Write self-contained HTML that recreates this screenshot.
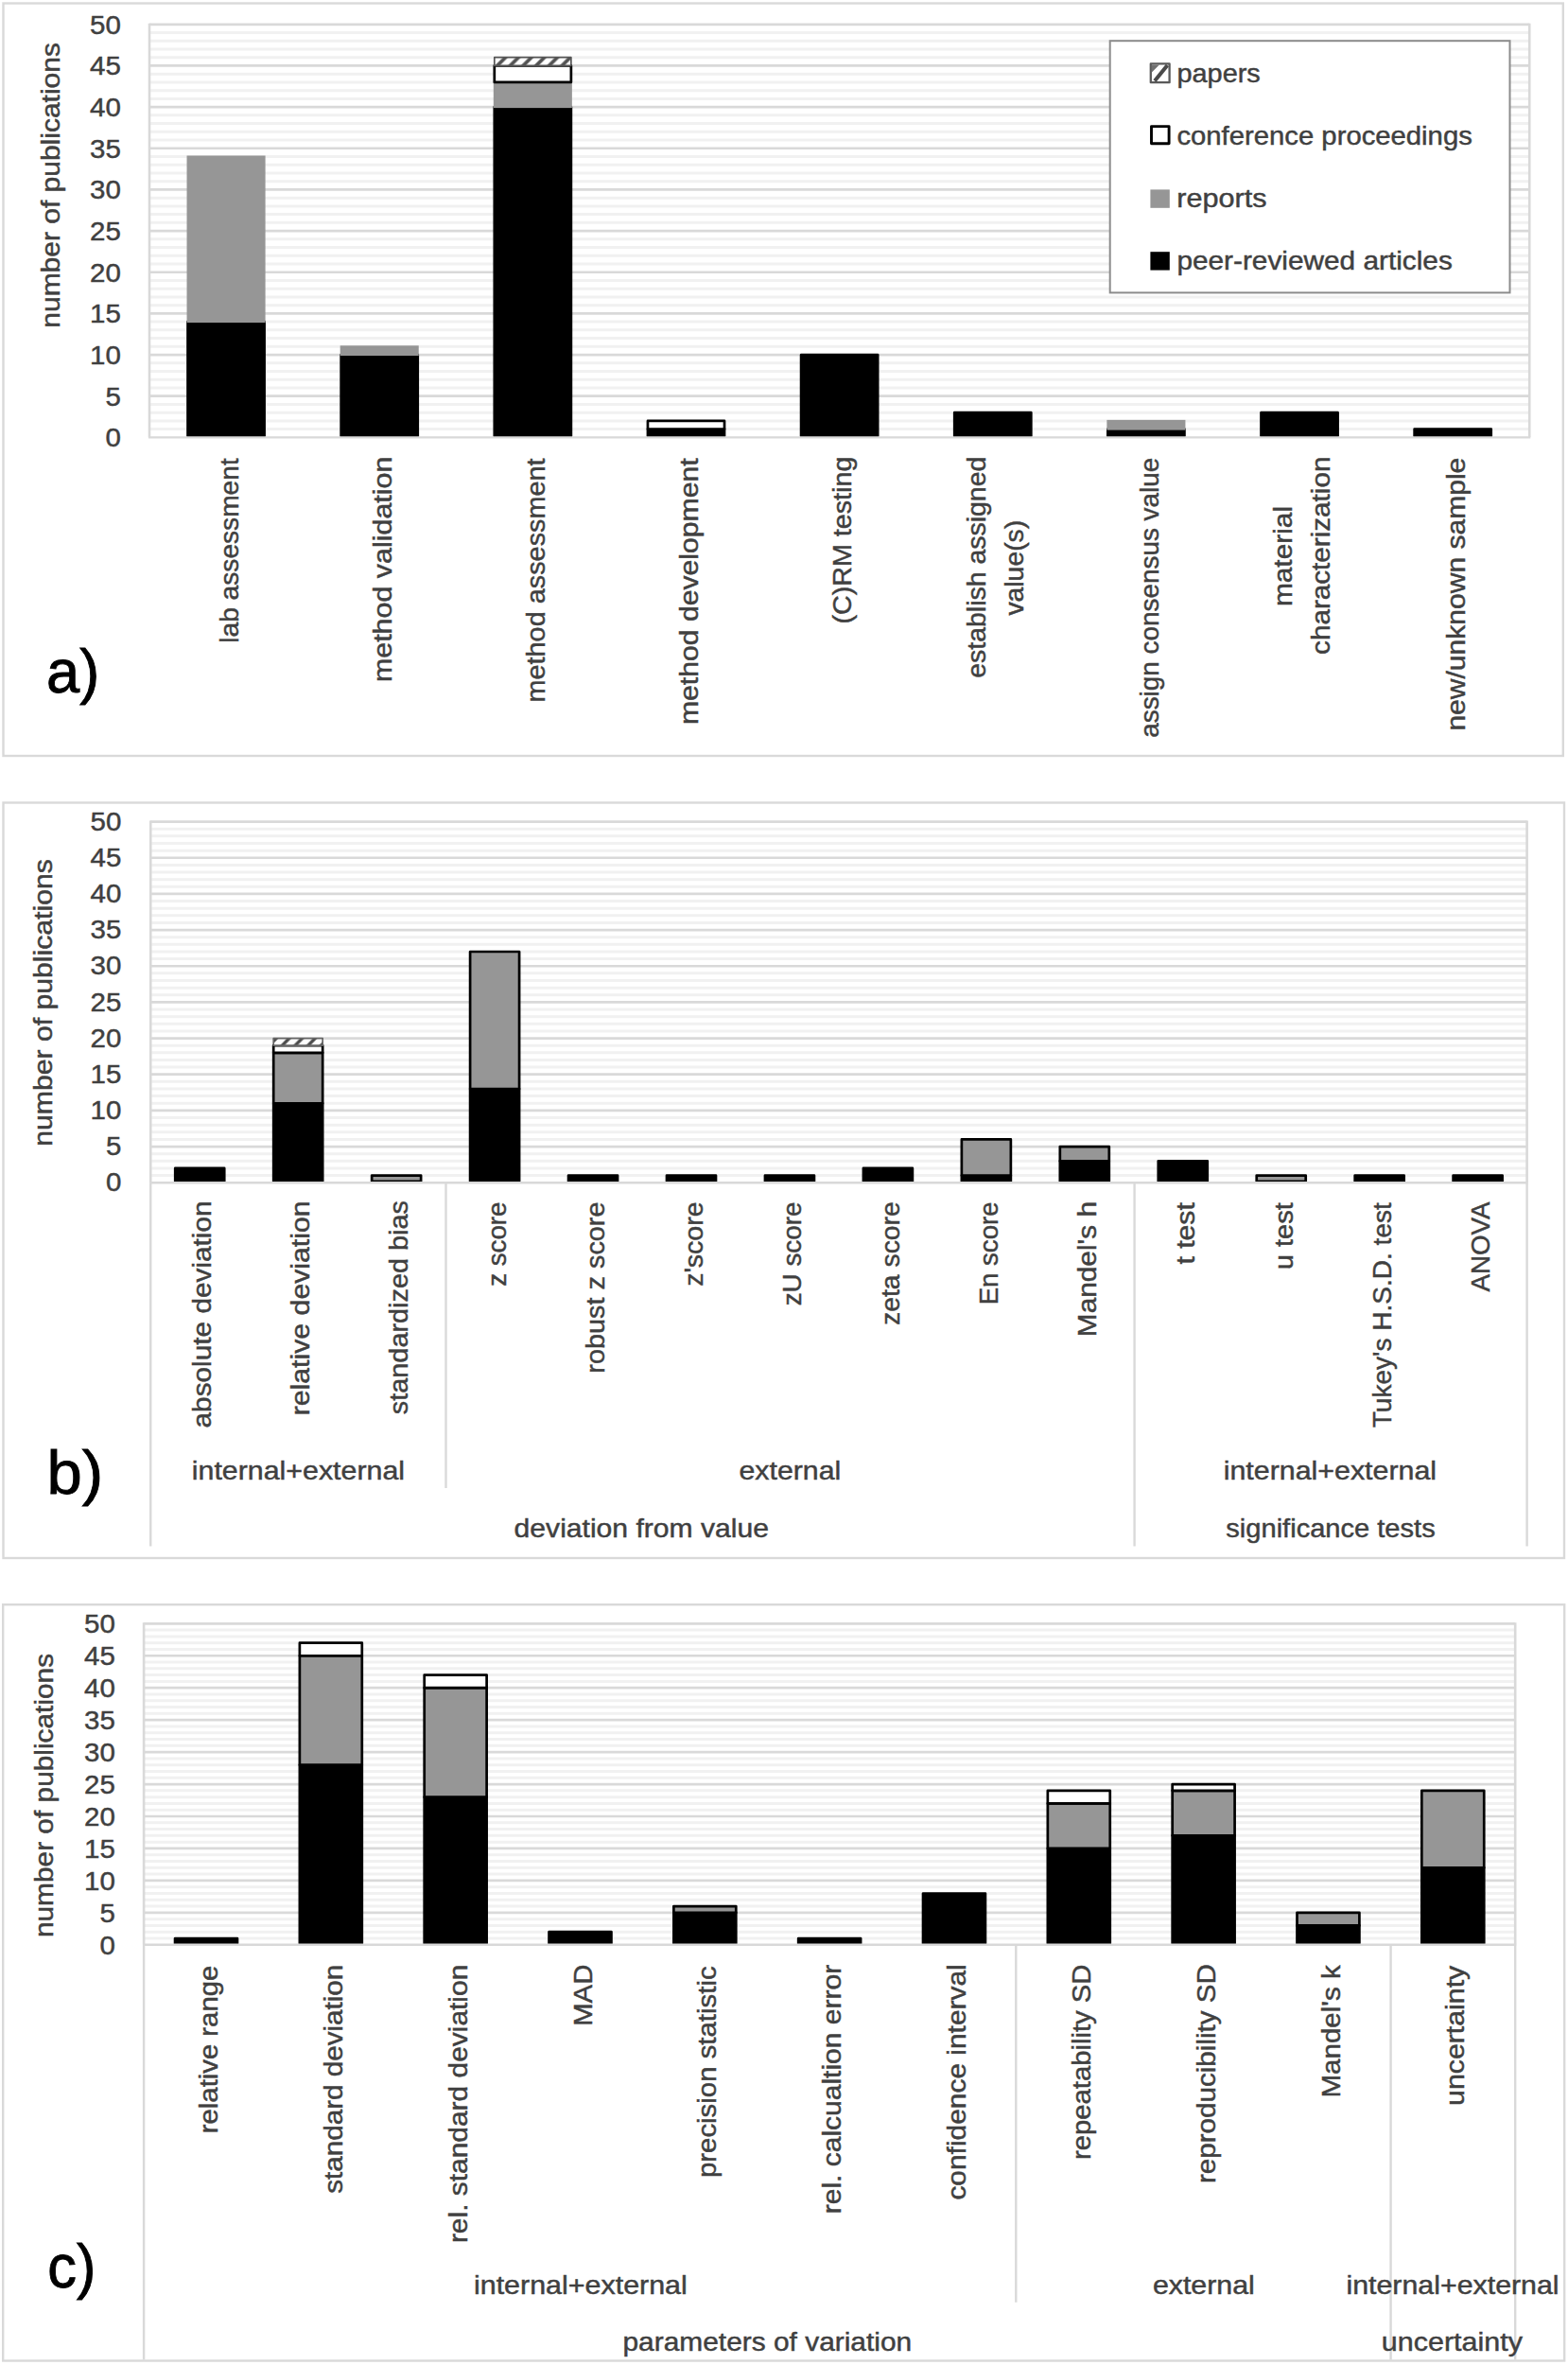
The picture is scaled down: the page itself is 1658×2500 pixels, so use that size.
<!DOCTYPE html>
<html lang="en"><head><meta charset="utf-8"><title>Publication statistics charts</title>
<style>
html,body{margin:0;padding:0;background:#fff}
body{width:1658px;height:2500px;overflow:hidden}
svg{display:block}
svg text{font-family:'Liberation Sans', Arial, Helvetica, sans-serif;white-space:pre}
</style></head><body>
<svg width="1658" height="2500" viewBox="0 0 1658 2500">
<defs>
<pattern id="hat" patternUnits="userSpaceOnUse" width="13.7" height="13.7" patternTransform="translate(521,60.5)">
<rect width="13.7" height="13.7" fill="#fff"/>
<path d="M-3.425,3.425L3.425,-3.425M0,13.7L13.7,0M10.275,17.125L17.125,10.275" stroke="#525252" stroke-width="3.7"/>
</pattern>
<pattern id="hatb" patternUnits="userSpaceOnUse" width="13.7" height="13.7" patternTransform="translate(521,60.5)">
<rect width="13.7" height="13.7" fill="#fff"/>
<path d="M-3.425,3.425L3.425,-3.425M0,13.7L13.7,0M10.275,17.125L17.125,10.275" stroke="#4a4a4a" stroke-width="3.3"/>
</pattern>
</defs>
<rect width="1658" height="2500" fill="#fff"/>
<rect x="3.5" y="3.5" width="1649.3" height="795.5" fill="#fff" stroke="#d9d9d9" stroke-width="2.4"/>
<rect x="3.5" y="848.5" width="1650.5" height="798.5" fill="#fff" stroke="#d9d9d9" stroke-width="2.4"/>
<rect x="3.2" y="1696.2" width="1651.0" height="799.3" fill="#fff" stroke="#d9d9d9" stroke-width="2.4"/>
<path d="M158.00,453.62H1617.25M158.00,444.89H1617.25M158.00,436.16H1617.25M158.00,427.43H1617.25M158.00,409.96H1617.25M158.00,401.23H1617.25M158.00,392.50H1617.25M158.00,383.77H1617.25M158.00,366.31H1617.25M158.00,357.58H1617.25M158.00,348.85H1617.25M158.00,340.12H1617.25M158.00,322.65H1617.25M158.00,313.92H1617.25M158.00,305.19H1617.25M158.00,296.46H1617.25M158.00,279.00H1617.25M158.00,270.27H1617.25M158.00,261.54H1617.25M158.00,252.81H1617.25M158.00,235.34H1617.25M158.00,226.61H1617.25M158.00,217.88H1617.25M158.00,209.15H1617.25M158.00,191.69H1617.25M158.00,182.96H1617.25M158.00,174.23H1617.25M158.00,165.50H1617.25M158.00,148.03H1617.25M158.00,139.30H1617.25M158.00,130.57H1617.25M158.00,121.84H1617.25M158.00,104.38H1617.25M158.00,95.65H1617.25M158.00,86.92H1617.25M158.00,78.19H1617.25M158.00,60.72H1617.25M158.00,51.99H1617.25M158.00,43.26H1617.25M158.00,34.53H1617.25" stroke="#f1f1f1" stroke-width="3" fill="none"/>
<path d="M158.00,418.70H1617.25M158.00,375.04H1617.25M158.00,331.38H1617.25M158.00,287.73H1617.25M158.00,244.08H1617.25M158.00,200.42H1617.25M158.00,156.77H1617.25M158.00,113.11H1617.25M158.00,69.46H1617.25M158.00,25.80H1617.25" stroke="#d9d9d9" stroke-width="2.7" fill="none"/>
<path d="M158.00,24.80V462.35M1617.25,24.80V462.35" stroke="#d9d9d9" stroke-width="2.6" fill="none"/>
<rect x="198.53" y="340.12" width="81.07" height="120.88" fill="#000" stroke="#000" stroke-width="2.7" stroke-linejoin="round"/>
<rect x="198.53" y="165.50" width="81.07" height="174.62" fill="#969696" stroke="#969696" stroke-width="2"/>
<rect x="360.67" y="375.04" width="81.07" height="85.96" fill="#000" stroke="#000" stroke-width="2.7" stroke-linejoin="round"/>
<rect x="360.67" y="366.31" width="81.07" height="8.73" fill="#969696" stroke="#969696" stroke-width="2"/>
<rect x="522.81" y="113.11" width="81.07" height="347.89" fill="#000" stroke="#000" stroke-width="2.7" stroke-linejoin="round"/>
<rect x="522.81" y="86.92" width="81.07" height="26.19" fill="#969696" stroke="#969696" stroke-width="2"/>
<rect x="522.81" y="69.46" width="81.07" height="17.46" fill="#fff" stroke="#000" stroke-width="2.7" stroke-linejoin="round"/>
<rect x="522.81" y="60.72" width="81.07" height="8.73" fill="url(#hat)" stroke="#555" stroke-width="1.7" stroke-linejoin="round"/>
<rect x="684.95" y="453.62" width="81.07" height="7.38" fill="#000" stroke="#000" stroke-width="2.7" stroke-linejoin="round"/>
<rect x="684.95" y="444.89" width="81.07" height="8.73" fill="#fff" stroke="#000" stroke-width="2.7" stroke-linejoin="round"/>
<rect x="847.09" y="375.04" width="81.07" height="85.96" fill="#000" stroke="#000" stroke-width="2.7" stroke-linejoin="round"/>
<rect x="1009.23" y="436.16" width="81.07" height="24.84" fill="#000" stroke="#000" stroke-width="2.7" stroke-linejoin="round"/>
<rect x="1171.37" y="453.62" width="81.07" height="7.38" fill="#000" stroke="#000" stroke-width="2.7" stroke-linejoin="round"/>
<rect x="1171.37" y="444.89" width="81.07" height="8.73" fill="#969696" stroke="#969696" stroke-width="2"/>
<rect x="1333.51" y="436.16" width="81.07" height="24.84" fill="#000" stroke="#000" stroke-width="2.7" stroke-linejoin="round"/>
<rect x="1495.65" y="453.62" width="81.07" height="7.38" fill="#000" stroke="#000" stroke-width="2.7" stroke-linejoin="round"/>
<path d="M157.00,462.35H1618.25" stroke="#d9d9d9" stroke-width="2.4" fill="none"/>
<text x="111.42" y="472.15" font-size="27.5" fill="#404040" stroke="#404040" stroke-width="0.45" textLength="16.39" lengthAdjust="spacingAndGlyphs">0</text>
<text x="111.42" y="428.50" font-size="27.5" fill="#404040" stroke="#404040" stroke-width="0.45" textLength="16.39" lengthAdjust="spacingAndGlyphs">5</text>
<text x="95.03" y="384.84" font-size="27.5" fill="#404040" stroke="#404040" stroke-width="0.45" textLength="32.79" lengthAdjust="spacingAndGlyphs">10</text>
<text x="95.03" y="341.19" font-size="27.5" fill="#404040" stroke="#404040" stroke-width="0.45" textLength="32.79" lengthAdjust="spacingAndGlyphs">15</text>
<text x="95.03" y="297.53" font-size="27.5" fill="#404040" stroke="#404040" stroke-width="0.45" textLength="32.79" lengthAdjust="spacingAndGlyphs">20</text>
<text x="95.03" y="253.88" font-size="27.5" fill="#404040" stroke="#404040" stroke-width="0.45" textLength="32.79" lengthAdjust="spacingAndGlyphs">25</text>
<text x="95.03" y="210.22" font-size="27.5" fill="#404040" stroke="#404040" stroke-width="0.45" textLength="32.79" lengthAdjust="spacingAndGlyphs">30</text>
<text x="95.03" y="166.57" font-size="27.5" fill="#404040" stroke="#404040" stroke-width="0.45" textLength="32.79" lengthAdjust="spacingAndGlyphs">35</text>
<text x="95.03" y="122.91" font-size="27.5" fill="#404040" stroke="#404040" stroke-width="0.45" textLength="32.79" lengthAdjust="spacingAndGlyphs">40</text>
<text x="95.03" y="79.26" font-size="27.5" fill="#404040" stroke="#404040" stroke-width="0.45" textLength="32.79" lengthAdjust="spacingAndGlyphs">45</text>
<text x="95.03" y="35.60" font-size="27.5" fill="#404040" stroke="#404040" stroke-width="0.45" textLength="32.79" lengthAdjust="spacingAndGlyphs">50</text>
<path d="M159.25,1242.57H1614.60M159.25,1234.94H1614.60M159.25,1227.30H1614.60M159.25,1219.67H1614.60M159.25,1204.41H1614.60M159.25,1196.78H1614.60M159.25,1189.14H1614.60M159.25,1181.51H1614.60M159.25,1166.25H1614.60M159.25,1158.62H1614.60M159.25,1150.98H1614.60M159.25,1143.35H1614.60M159.25,1128.09H1614.60M159.25,1120.46H1614.60M159.25,1112.82H1614.60M159.25,1105.19H1614.60M159.25,1089.93H1614.60M159.25,1082.30H1614.60M159.25,1074.66H1614.60M159.25,1067.03H1614.60M159.25,1051.77H1614.60M159.25,1044.14H1614.60M159.25,1036.50H1614.60M159.25,1028.87H1614.60M159.25,1013.61H1614.60M159.25,1005.98H1614.60M159.25,998.34H1614.60M159.25,990.71H1614.60M159.25,975.45H1614.60M159.25,967.82H1614.60M159.25,960.18H1614.60M159.25,952.55H1614.60M159.25,937.29H1614.60M159.25,929.66H1614.60M159.25,922.02H1614.60M159.25,914.39H1614.60M159.25,899.13H1614.60M159.25,891.50H1614.60M159.25,883.86H1614.60M159.25,876.23H1614.60" stroke="#f1f1f1" stroke-width="3" fill="none"/>
<path d="M159.25,1212.04H1614.60M159.25,1173.88H1614.60M159.25,1135.72H1614.60M159.25,1097.56H1614.60M159.25,1059.40H1614.60M159.25,1021.24H1614.60M159.25,983.08H1614.60M159.25,944.92H1614.60M159.25,906.76H1614.60M159.25,868.60H1614.60" stroke="#d9d9d9" stroke-width="2.7" fill="none"/>
<path d="M159.25,867.60V1250.20M1614.60,867.60V1250.20" stroke="#d9d9d9" stroke-width="2.6" fill="none"/>
<rect x="185.24" y="1234.94" width="51.98" height="13.91" fill="#000" stroke="#000" stroke-width="2.7" stroke-linejoin="round"/>
<rect x="289.19" y="1166.25" width="51.98" height="82.60" fill="#000" stroke="#000" stroke-width="2.7" stroke-linejoin="round"/>
<rect x="289.19" y="1112.82" width="51.98" height="53.42" fill="#969696" stroke="#000" stroke-width="2.7" stroke-linejoin="round"/>
<rect x="289.19" y="1105.19" width="51.98" height="7.63" fill="#fff" stroke="#000" stroke-width="2.7" stroke-linejoin="round"/>
<rect x="289.19" y="1097.56" width="51.98" height="7.63" fill="url(#hatb)" stroke="#666" stroke-width="1.7" stroke-linejoin="round"/>
<rect x="393.15" y="1242.57" width="51.98" height="6.28" fill="#969696" stroke="#000" stroke-width="2.7" stroke-linejoin="round"/>
<rect x="497.10" y="1150.98" width="51.98" height="97.87" fill="#000" stroke="#000" stroke-width="2.7" stroke-linejoin="round"/>
<rect x="497.10" y="1005.98" width="51.98" height="145.01" fill="#969696" stroke="#000" stroke-width="2.7" stroke-linejoin="round"/>
<rect x="601.05" y="1242.57" width="51.98" height="6.28" fill="#000" stroke="#000" stroke-width="2.7" stroke-linejoin="round"/>
<rect x="705.01" y="1242.57" width="51.98" height="6.28" fill="#000" stroke="#000" stroke-width="2.7" stroke-linejoin="round"/>
<rect x="808.96" y="1242.57" width="51.98" height="6.28" fill="#000" stroke="#000" stroke-width="2.7" stroke-linejoin="round"/>
<rect x="912.91" y="1234.94" width="51.98" height="13.91" fill="#000" stroke="#000" stroke-width="2.7" stroke-linejoin="round"/>
<rect x="1016.87" y="1242.57" width="51.98" height="6.28" fill="#000" stroke="#000" stroke-width="2.7" stroke-linejoin="round"/>
<rect x="1016.87" y="1204.41" width="51.98" height="38.16" fill="#969696" stroke="#000" stroke-width="2.7" stroke-linejoin="round"/>
<rect x="1120.82" y="1227.30" width="51.98" height="21.55" fill="#000" stroke="#000" stroke-width="2.7" stroke-linejoin="round"/>
<rect x="1120.82" y="1212.04" width="51.98" height="15.26" fill="#969696" stroke="#000" stroke-width="2.7" stroke-linejoin="round"/>
<rect x="1224.77" y="1227.30" width="51.98" height="21.55" fill="#000" stroke="#000" stroke-width="2.7" stroke-linejoin="round"/>
<rect x="1328.73" y="1242.57" width="51.98" height="6.28" fill="#969696" stroke="#000" stroke-width="2.7" stroke-linejoin="round"/>
<rect x="1432.68" y="1242.57" width="51.98" height="6.28" fill="#000" stroke="#000" stroke-width="2.7" stroke-linejoin="round"/>
<rect x="1536.63" y="1242.57" width="51.98" height="6.28" fill="#000" stroke="#000" stroke-width="2.7" stroke-linejoin="round"/>
<path d="M158.25,1250.20H1615.60" stroke="#d9d9d9" stroke-width="2.4" fill="none"/>
<text x="111.92" y="1259.30" font-size="27.5" fill="#404040" stroke="#404040" stroke-width="0.45" textLength="16.39" lengthAdjust="spacingAndGlyphs">0</text>
<text x="111.92" y="1221.14" font-size="27.5" fill="#404040" stroke="#404040" stroke-width="0.45" textLength="16.39" lengthAdjust="spacingAndGlyphs">5</text>
<text x="95.53" y="1182.98" font-size="27.5" fill="#404040" stroke="#404040" stroke-width="0.45" textLength="32.79" lengthAdjust="spacingAndGlyphs">10</text>
<text x="95.53" y="1144.82" font-size="27.5" fill="#404040" stroke="#404040" stroke-width="0.45" textLength="32.79" lengthAdjust="spacingAndGlyphs">15</text>
<text x="95.53" y="1106.66" font-size="27.5" fill="#404040" stroke="#404040" stroke-width="0.45" textLength="32.79" lengthAdjust="spacingAndGlyphs">20</text>
<text x="95.53" y="1068.50" font-size="27.5" fill="#404040" stroke="#404040" stroke-width="0.45" textLength="32.79" lengthAdjust="spacingAndGlyphs">25</text>
<text x="95.53" y="1030.34" font-size="27.5" fill="#404040" stroke="#404040" stroke-width="0.45" textLength="32.79" lengthAdjust="spacingAndGlyphs">30</text>
<text x="95.53" y="992.18" font-size="27.5" fill="#404040" stroke="#404040" stroke-width="0.45" textLength="32.79" lengthAdjust="spacingAndGlyphs">35</text>
<text x="95.53" y="954.02" font-size="27.5" fill="#404040" stroke="#404040" stroke-width="0.45" textLength="32.79" lengthAdjust="spacingAndGlyphs">40</text>
<text x="95.53" y="915.86" font-size="27.5" fill="#404040" stroke="#404040" stroke-width="0.45" textLength="32.79" lengthAdjust="spacingAndGlyphs">45</text>
<text x="95.53" y="877.70" font-size="27.5" fill="#404040" stroke="#404040" stroke-width="0.45" textLength="32.79" lengthAdjust="spacingAndGlyphs">50</text>
<path d="M152.10,2049.01H1602.20M152.10,2042.22H1602.20M152.10,2035.43H1602.20M152.10,2028.64H1602.20M152.10,2015.06H1602.20M152.10,2008.27H1602.20M152.10,2001.48H1602.20M152.10,1994.69H1602.20M152.10,1981.11H1602.20M152.10,1974.32H1602.20M152.10,1967.53H1602.20M152.10,1960.74H1602.20M152.10,1947.16H1602.20M152.10,1940.37H1602.20M152.10,1933.58H1602.20M152.10,1926.79H1602.20M152.10,1913.21H1602.20M152.10,1906.42H1602.20M152.10,1899.63H1602.20M152.10,1892.84H1602.20M152.10,1879.26H1602.20M152.10,1872.47H1602.20M152.10,1865.68H1602.20M152.10,1858.89H1602.20M152.10,1845.31H1602.20M152.10,1838.52H1602.20M152.10,1831.73H1602.20M152.10,1824.94H1602.20M152.10,1811.36H1602.20M152.10,1804.57H1602.20M152.10,1797.78H1602.20M152.10,1790.99H1602.20M152.10,1777.41H1602.20M152.10,1770.62H1602.20M152.10,1763.83H1602.20M152.10,1757.04H1602.20M152.10,1743.46H1602.20M152.10,1736.67H1602.20M152.10,1729.88H1602.20M152.10,1723.09H1602.20" stroke="#f1f1f1" stroke-width="3" fill="none"/>
<path d="M152.10,2021.85H1602.20M152.10,1987.90H1602.20M152.10,1953.95H1602.20M152.10,1920.00H1602.20M152.10,1886.05H1602.20M152.10,1852.10H1602.20M152.10,1818.15H1602.20M152.10,1784.20H1602.20M152.10,1750.25H1602.20M152.10,1716.30H1602.20" stroke="#d9d9d9" stroke-width="2.7" fill="none"/>
<path d="M152.10,1715.30V2055.80M1602.20,1715.30V2055.80" stroke="#d9d9d9" stroke-width="2.6" fill="none"/>
<rect x="185.06" y="2049.01" width="65.91" height="5.44" fill="#000" stroke="#000" stroke-width="2.7" stroke-linejoin="round"/>
<rect x="316.88" y="1865.68" width="65.91" height="188.77" fill="#000" stroke="#000" stroke-width="2.7" stroke-linejoin="round"/>
<rect x="316.88" y="1750.25" width="65.91" height="115.43" fill="#969696" stroke="#000" stroke-width="2.7" stroke-linejoin="round"/>
<rect x="316.88" y="1736.67" width="65.91" height="13.58" fill="#fff" stroke="#000" stroke-width="2.7" stroke-linejoin="round"/>
<rect x="448.71" y="1899.63" width="65.91" height="154.82" fill="#000" stroke="#000" stroke-width="2.7" stroke-linejoin="round"/>
<rect x="448.71" y="1784.20" width="65.91" height="115.43" fill="#969696" stroke="#000" stroke-width="2.7" stroke-linejoin="round"/>
<rect x="448.71" y="1770.62" width="65.91" height="13.58" fill="#fff" stroke="#000" stroke-width="2.7" stroke-linejoin="round"/>
<rect x="580.54" y="2042.22" width="65.91" height="12.23" fill="#000" stroke="#000" stroke-width="2.7" stroke-linejoin="round"/>
<rect x="712.37" y="2021.85" width="65.91" height="32.60" fill="#000" stroke="#000" stroke-width="2.7" stroke-linejoin="round"/>
<rect x="712.37" y="2015.06" width="65.91" height="6.79" fill="#969696" stroke="#000" stroke-width="2.7" stroke-linejoin="round"/>
<rect x="844.19" y="2049.01" width="65.91" height="5.44" fill="#000" stroke="#000" stroke-width="2.7" stroke-linejoin="round"/>
<rect x="976.02" y="2001.48" width="65.91" height="52.97" fill="#000" stroke="#000" stroke-width="2.7" stroke-linejoin="round"/>
<rect x="1107.85" y="1953.95" width="65.91" height="100.50" fill="#000" stroke="#000" stroke-width="2.7" stroke-linejoin="round"/>
<rect x="1107.85" y="1906.42" width="65.91" height="47.53" fill="#969696" stroke="#000" stroke-width="2.7" stroke-linejoin="round"/>
<rect x="1107.85" y="1892.84" width="65.91" height="13.58" fill="#fff" stroke="#000" stroke-width="2.7" stroke-linejoin="round"/>
<rect x="1239.68" y="1940.37" width="65.91" height="114.08" fill="#000" stroke="#000" stroke-width="2.7" stroke-linejoin="round"/>
<rect x="1239.68" y="1892.84" width="65.91" height="47.53" fill="#969696" stroke="#000" stroke-width="2.7" stroke-linejoin="round"/>
<rect x="1239.68" y="1886.05" width="65.91" height="6.79" fill="#fff" stroke="#000" stroke-width="2.7" stroke-linejoin="round"/>
<rect x="1371.50" y="2035.43" width="65.91" height="19.02" fill="#000" stroke="#000" stroke-width="2.7" stroke-linejoin="round"/>
<rect x="1371.50" y="2021.85" width="65.91" height="13.58" fill="#969696" stroke="#000" stroke-width="2.7" stroke-linejoin="round"/>
<rect x="1503.33" y="1974.32" width="65.91" height="80.13" fill="#000" stroke="#000" stroke-width="2.7" stroke-linejoin="round"/>
<rect x="1503.33" y="1892.84" width="65.91" height="81.48" fill="#969696" stroke="#000" stroke-width="2.7" stroke-linejoin="round"/>
<path d="M151.10,2055.80H1603.20" stroke="#d9d9d9" stroke-width="2.4" fill="none"/>
<text x="105.52" y="2065.80" font-size="27.5" fill="#404040" stroke="#404040" stroke-width="0.45" textLength="16.39" lengthAdjust="spacingAndGlyphs">0</text>
<text x="105.52" y="2031.85" font-size="27.5" fill="#404040" stroke="#404040" stroke-width="0.45" textLength="16.39" lengthAdjust="spacingAndGlyphs">5</text>
<text x="89.13" y="1997.90" font-size="27.5" fill="#404040" stroke="#404040" stroke-width="0.45" textLength="32.79" lengthAdjust="spacingAndGlyphs">10</text>
<text x="89.13" y="1963.95" font-size="27.5" fill="#404040" stroke="#404040" stroke-width="0.45" textLength="32.79" lengthAdjust="spacingAndGlyphs">15</text>
<text x="89.13" y="1930.00" font-size="27.5" fill="#404040" stroke="#404040" stroke-width="0.45" textLength="32.79" lengthAdjust="spacingAndGlyphs">20</text>
<text x="89.13" y="1896.05" font-size="27.5" fill="#404040" stroke="#404040" stroke-width="0.45" textLength="32.79" lengthAdjust="spacingAndGlyphs">25</text>
<text x="89.13" y="1862.10" font-size="27.5" fill="#404040" stroke="#404040" stroke-width="0.45" textLength="32.79" lengthAdjust="spacingAndGlyphs">30</text>
<text x="89.13" y="1828.15" font-size="27.5" fill="#404040" stroke="#404040" stroke-width="0.45" textLength="32.79" lengthAdjust="spacingAndGlyphs">35</text>
<text x="89.13" y="1794.20" font-size="27.5" fill="#404040" stroke="#404040" stroke-width="0.45" textLength="32.79" lengthAdjust="spacingAndGlyphs">40</text>
<text x="89.13" y="1760.25" font-size="27.5" fill="#404040" stroke="#404040" stroke-width="0.45" textLength="32.79" lengthAdjust="spacingAndGlyphs">45</text>
<text x="89.13" y="1726.30" font-size="27.5" fill="#404040" stroke="#404040" stroke-width="0.45" textLength="32.79" lengthAdjust="spacingAndGlyphs">50</text>
<path d="M159.25,1250.20V1634.50" stroke="#d9d9d9" stroke-width="2.4" fill="none"/>
<path d="M471.51,1250.20V1573.00" stroke="#d9d9d9" stroke-width="2.4" fill="none"/>
<path d="M1199.59,1250.20V1634.50" stroke="#d9d9d9" stroke-width="2.4" fill="none"/>
<path d="M1614.60,1250.20V1634.50" stroke="#d9d9d9" stroke-width="2.4" fill="none"/>
<path d="M152.10,2055.80V2494.50" stroke="#d9d9d9" stroke-width="2.4" fill="none"/>
<path d="M1074.29,2055.80V2433.70" stroke="#d9d9d9" stroke-width="2.4" fill="none"/>
<path d="M1470.57,2055.80V2494.50" stroke="#d9d9d9" stroke-width="2.4" fill="none"/>
<path d="M1602.20,2055.80V2494.50" stroke="#d9d9d9" stroke-width="2.4" fill="none"/>
<rect x="1173.7" y="43.2" width="422.8" height="266.2" fill="#fff" stroke="#8c8c8c" stroke-width="2"/>
<rect x="1216.8000000000002" y="67.39999999999999" width="19.799999999999997" height="19.799999999999997" fill="#fff" stroke="#5a5a5a" stroke-width="2.3" stroke-linejoin="round"/>
<path d="M1217.9,68.60000000000001h8l-8,8z" fill="#707070"/>
<path d="M1221.0,85.60000000000001L1234.4,69.0" stroke="#4a4a4a" stroke-width="4" fill="none"/>
<rect x="1217.5" y="133.6" width="18.599999999999998" height="18.099999999999998" fill="#fff" stroke="#000" stroke-width="2.9" stroke-linejoin="round"/>
<rect x="1216.4" y="200.4" width="20.4" height="19.4" fill="#969696"/>
<rect x="1216.4" y="266.2" width="20.4" height="19.4" fill="#000"/>
<text x="1244.45" y="86.50" font-size="27.5" fill="#404040" stroke="#404040" stroke-width="0.45" textLength="88.34" lengthAdjust="spacingAndGlyphs">papers</text>
<text x="1244.44" y="152.75" font-size="27.5" fill="#404040" stroke="#404040" stroke-width="0.45" textLength="312.36" lengthAdjust="spacingAndGlyphs">conference proceedings</text>
<text x="1244.39" y="219.00" font-size="27.5" fill="#404040" stroke="#404040" stroke-width="0.45" textLength="95.20" lengthAdjust="spacingAndGlyphs">reports</text>
<text x="1244.42" y="285.25" font-size="27.5" fill="#404040" stroke="#404040" stroke-width="0.45" textLength="291.40" lengthAdjust="spacingAndGlyphs">peer-reviewed articles</text>
<text x="49.02" y="732.00" font-size="64" fill="#000" stroke="#000" stroke-width="0.9" textLength="56.25" lengthAdjust="spacingAndGlyphs">a)</text>
<text x="49.51" y="1579.20" font-size="64" fill="#000" stroke="#000" stroke-width="0.9" textLength="59.55" lengthAdjust="spacingAndGlyphs">b)</text>
<text x="50.28" y="2417.90" font-size="64" fill="#000" stroke="#000" stroke-width="0.9" textLength="51.20" lengthAdjust="spacingAndGlyphs">c)</text>
<text x="202.80" y="1563.70" font-size="27.5" fill="#404040" stroke="#404040" stroke-width="0.45" textLength="225.23" lengthAdjust="spacingAndGlyphs">internal+external</text>
<text x="781.50" y="1563.70" font-size="27.5" fill="#404040" stroke="#404040" stroke-width="0.45" textLength="107.72" lengthAdjust="spacingAndGlyphs">external</text>
<text x="1293.70" y="1563.70" font-size="27.5" fill="#404040" stroke="#404040" stroke-width="0.45" textLength="225.33" lengthAdjust="spacingAndGlyphs">internal+external</text>
<text x="543.61" y="1625.30" font-size="27.5" fill="#404040" stroke="#404040" stroke-width="0.45" textLength="269.32" lengthAdjust="spacingAndGlyphs">deviation from value</text>
<text x="1296.30" y="1625.30" font-size="27.5" fill="#404040" stroke="#404040" stroke-width="0.45" textLength="221.39" lengthAdjust="spacingAndGlyphs">significance tests</text>
<text x="500.99" y="2424.70" font-size="27.5" fill="#404040" stroke="#404040" stroke-width="0.45" textLength="225.83" lengthAdjust="spacingAndGlyphs">internal+external</text>
<text x="1218.90" y="2424.70" font-size="27.5" fill="#404040" stroke="#404040" stroke-width="0.45" textLength="107.93" lengthAdjust="spacingAndGlyphs">external</text>
<text x="1423.40" y="2424.70" font-size="27.5" fill="#404040" stroke="#404040" stroke-width="0.45" textLength="225.23" lengthAdjust="spacingAndGlyphs">internal+external</text>
<text x="658.51" y="2484.50" font-size="27.5" fill="#404040" stroke="#404040" stroke-width="0.45" textLength="305.69" lengthAdjust="spacingAndGlyphs">parameters of variation</text>
<text x="1460.89" y="2484.50" font-size="27.5" fill="#404040" stroke="#404040" stroke-width="0.45" textLength="149.03" lengthAdjust="spacingAndGlyphs">uncertainty</text>
<text transform="translate(63.20,346.69) rotate(-90)" font-size="27.5" fill="#404040" stroke="#404040" stroke-width="0.45" textLength="301.61" lengthAdjust="spacingAndGlyphs">number of publications</text>
<text transform="translate(54.90,1211.80) rotate(-90)" font-size="27.5" fill="#404040" stroke="#404040" stroke-width="0.45" textLength="303.62" lengthAdjust="spacingAndGlyphs">number of publications</text>
<text transform="translate(55.60,2048.08) rotate(-90)" font-size="27.5" fill="#404040" stroke="#404040" stroke-width="0.45" textLength="300.20" lengthAdjust="spacingAndGlyphs">number of publications</text>
<text transform="translate(251.67,679.77) rotate(-90)" font-size="27.5" fill="#404040" stroke="#404040" stroke-width="0.45" textLength="195.51" lengthAdjust="spacingAndGlyphs">lab assessment</text>
<text transform="translate(413.81,721.11) rotate(-90)" font-size="27.5" fill="#404040" stroke="#404040" stroke-width="0.45" textLength="238.54" lengthAdjust="spacingAndGlyphs">method validation</text>
<text transform="translate(575.95,742.55) rotate(-90)" font-size="27.5" fill="#404040" stroke="#404040" stroke-width="0.45" textLength="258.17" lengthAdjust="spacingAndGlyphs">method assessment</text>
<text transform="translate(738.09,766.10) rotate(-90)" font-size="27.5" fill="#404040" stroke="#404040" stroke-width="0.45" textLength="281.70" lengthAdjust="spacingAndGlyphs">method development</text>
<text transform="translate(900.22,659.54) rotate(-90)" font-size="27.5" fill="#404040" stroke="#404040" stroke-width="0.45" textLength="176.89" lengthAdjust="spacingAndGlyphs">(C)RM testing</text>
<text transform="translate(1224.50,779.81) rotate(-90)" font-size="27.5" fill="#404040" stroke="#404040" stroke-width="0.45" textLength="296.11" lengthAdjust="spacingAndGlyphs">assign consensus value</text>
<text transform="translate(1548.78,772.59) rotate(-90)" font-size="27.5" fill="#404040" stroke="#404040" stroke-width="0.45" textLength="288.91" lengthAdjust="spacingAndGlyphs">new/unknown sample</text>
<text transform="translate(1041.86,716.73) rotate(-90)" font-size="27.5" fill="#404040" stroke="#404040" stroke-width="0.45" textLength="234.07" lengthAdjust="spacingAndGlyphs">establish assigned</text>
<text transform="translate(1082.26,650.60) rotate(-90)" font-size="27.5" fill="#404040" stroke="#404040" stroke-width="0.45" textLength="100.79" lengthAdjust="spacingAndGlyphs">value(s)</text>
<text transform="translate(1366.34,641.08) rotate(-90)" font-size="27.5" fill="#404040" stroke="#404040" stroke-width="0.45" textLength="106.09" lengthAdjust="spacingAndGlyphs">material</text>
<text transform="translate(1406.34,691.88) rotate(-90)" font-size="27.5" fill="#404040" stroke="#404040" stroke-width="0.45" textLength="209.27" lengthAdjust="spacingAndGlyphs">characterization</text>
<text transform="translate(223.13,1509.48) rotate(-90)" font-size="27.5" fill="#404040" stroke="#404040" stroke-width="0.45" textLength="240.08" lengthAdjust="spacingAndGlyphs">absolute deviation</text>
<text transform="translate(327.08,1496.30) rotate(-90)" font-size="27.5" fill="#404040" stroke="#404040" stroke-width="0.45" textLength="226.92" lengthAdjust="spacingAndGlyphs">relative deviation</text>
<text transform="translate(431.03,1495.20) rotate(-90)" font-size="27.5" fill="#404040" stroke="#404040" stroke-width="0.45" textLength="226.19" lengthAdjust="spacingAndGlyphs">standardized bias</text>
<text transform="translate(534.99,1359.81) rotate(-90)" font-size="27.5" fill="#404040" stroke="#404040" stroke-width="0.45" textLength="89.30" lengthAdjust="spacingAndGlyphs">z score</text>
<text transform="translate(638.94,1451.65) rotate(-90)" font-size="27.5" fill="#404040" stroke="#404040" stroke-width="0.45" textLength="181.16" lengthAdjust="spacingAndGlyphs">robust z score</text>
<text transform="translate(742.89,1359.84) rotate(-90)" font-size="27.5" fill="#404040" stroke="#404040" stroke-width="0.45" textLength="89.34" lengthAdjust="spacingAndGlyphs">z'score</text>
<text transform="translate(846.85,1380.31) rotate(-90)" font-size="27.5" fill="#404040" stroke="#404040" stroke-width="0.45" textLength="109.81" lengthAdjust="spacingAndGlyphs">zU score</text>
<text transform="translate(950.80,1400.93) rotate(-90)" font-size="27.5" fill="#404040" stroke="#404040" stroke-width="0.45" textLength="130.73" lengthAdjust="spacingAndGlyphs">zeta score</text>
<text transform="translate(1054.76,1379.31) rotate(-90)" font-size="27.5" fill="#404040" stroke="#404040" stroke-width="0.45" textLength="108.80" lengthAdjust="spacingAndGlyphs">En score</text>
<text transform="translate(1158.71,1413.17) rotate(-90)" font-size="27.5" fill="#404040" stroke="#404040" stroke-width="0.45" textLength="143.17" lengthAdjust="spacingAndGlyphs">Mandel's h</text>
<text transform="translate(1262.66,1336.50) rotate(-90)" font-size="27.5" fill="#404040" stroke="#404040" stroke-width="0.45" textLength="65.31" lengthAdjust="spacingAndGlyphs">t test</text>
<text transform="translate(1366.62,1342.26) rotate(-90)" font-size="27.5" fill="#404040" stroke="#404040" stroke-width="0.45" textLength="71.08" lengthAdjust="spacingAndGlyphs">u test</text>
<text transform="translate(1470.57,1509.30) rotate(-90)" font-size="27.5" fill="#404040" stroke="#404040" stroke-width="0.45" textLength="238.13" lengthAdjust="spacingAndGlyphs">Tukey's H.S.D. test</text>
<text transform="translate(1574.52,1365.60) rotate(-90)" font-size="27.5" fill="#404040" stroke="#404040" stroke-width="0.45" textLength="95.14" lengthAdjust="spacingAndGlyphs">ANOVA</text>
<text transform="translate(230.11,2255.16) rotate(-90)" font-size="27.5" fill="#404040" stroke="#404040" stroke-width="0.45" textLength="177.38" lengthAdjust="spacingAndGlyphs">relative range</text>
<text transform="translate(361.94,2318.70) rotate(-90)" font-size="27.5" fill="#404040" stroke="#404040" stroke-width="0.45" textLength="241.99" lengthAdjust="spacingAndGlyphs">standard deviation</text>
<text transform="translate(493.77,2371.09) rotate(-90)" font-size="27.5" fill="#404040" stroke="#404040" stroke-width="0.45" textLength="294.40" lengthAdjust="spacingAndGlyphs">rel. standard deviation</text>
<text transform="translate(625.60,2141.84) rotate(-90)" font-size="27.5" fill="#404040" stroke="#404040" stroke-width="0.45" textLength="65.25" lengthAdjust="spacingAndGlyphs">MAD</text>
<text transform="translate(757.42,2302.07) rotate(-90)" font-size="27.5" fill="#404040" stroke="#404040" stroke-width="0.45" textLength="223.70" lengthAdjust="spacingAndGlyphs">precision statistic</text>
<text transform="translate(889.25,2340.29) rotate(-90)" font-size="27.5" fill="#404040" stroke="#404040" stroke-width="0.45" textLength="263.46" lengthAdjust="spacingAndGlyphs">rel. calcualtion error</text>
<text transform="translate(1021.08,2325.59) rotate(-90)" font-size="27.5" fill="#404040" stroke="#404040" stroke-width="0.45" textLength="249.29" lengthAdjust="spacingAndGlyphs">confidence interval</text>
<text transform="translate(1152.90,2283.06) rotate(-90)" font-size="27.5" fill="#404040" stroke="#404040" stroke-width="0.45" textLength="206.48" lengthAdjust="spacingAndGlyphs">repeatability SD</text>
<text transform="translate(1284.73,2308.08) rotate(-90)" font-size="27.5" fill="#404040" stroke="#404040" stroke-width="0.45" textLength="232.00" lengthAdjust="spacingAndGlyphs">reproducibility SD</text>
<text transform="translate(1416.56,2217.55) rotate(-90)" font-size="27.5" fill="#404040" stroke="#404040" stroke-width="0.45" textLength="140.28" lengthAdjust="spacingAndGlyphs">Mandel's k</text>
<text transform="translate(1548.39,2225.90) rotate(-90)" font-size="27.5" fill="#404040" stroke="#404040" stroke-width="0.45" textLength="148.13" lengthAdjust="spacingAndGlyphs">uncertainty</text>
</svg>
</body></html>
